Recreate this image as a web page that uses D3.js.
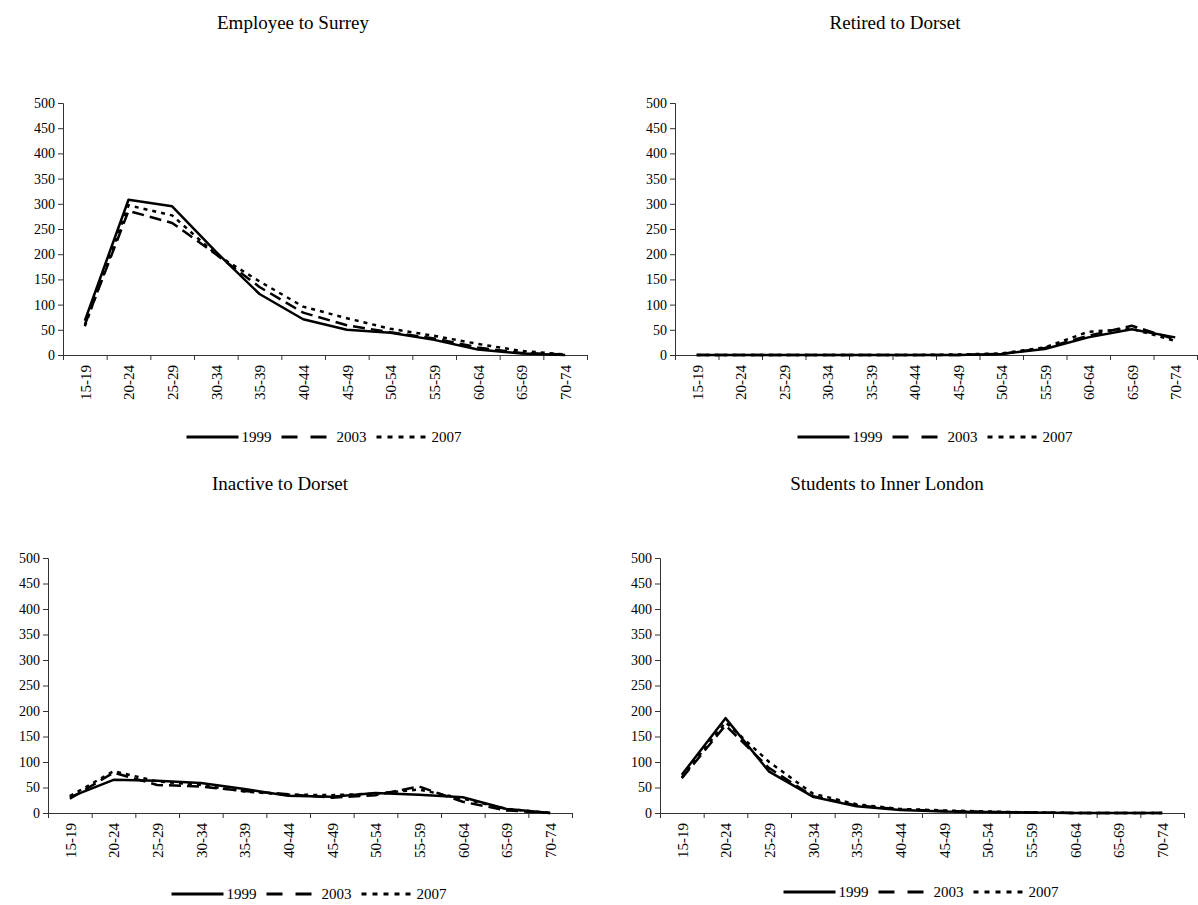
<!DOCTYPE html>
<html>
<head>
<meta charset="utf-8">
<script src="https://cdn.jsdelivr.net/npm/d3@7"></script>
<style>
  html, body { margin: 0; padding: 0; background: #ffffff; }
  svg { display: block; }
  text { font-family: "Liberation Serif", "Times New Roman", serif; fill: #000; }
</style>
</head>
<body>
<svg id="chart" width="1198" height="905"></svg>
<script>
// ---------- data ----------
const ageGroups = ["15-19","20-24","25-29","30-34","35-39","40-44","45-49","50-54","55-59","60-64","65-69","70-74"];
const years = ["1999","2003","2007"];
const yTicks = [0,50,100,150,200,250,300,350,400,450,500];

const employeeSurrey1999 = [68, 308, 295, 205, 121, 71, 50, 44, 30, 11, 3, 0];
const employeeSurrey2003 = [60, 286, 262, 200, 135, 84, 59, 45, 33, 15, 4, 1];
const employeeSurrey2007 = [57, 297, 277, 200, 146, 96, 73, 52, 38, 22, 8, 1];

const retiredDorset1999 = [0, 0, 0, 0, 0, 0, 0, 2, 12, 35, 51, 35];
const retiredDorset2003 = [0, 0, 0, 0, 0, 0, 0, 2, 14, 38, 58, 31];
const retiredDorset2007 = [0, 0, 0, 0, 0, 0, 1, 3, 15, 46, 52, 28];

const inactiveDorset1999 = [31, 65, 63, 59, 47, 34, 32, 39, 36, 31, 8, 0];
const inactiveDorset2003 = [28, 79, 55, 52, 43, 37, 30, 35, 52, 22, 5, 0];
const inactiveDorset2007 = [33, 82, 62, 55, 42, 36, 35, 38, 46, 28, 8, 0];

const studentsLondon1999 = [75, 186, 81, 32, 13, 6, 3, 2, 1, 0, 0, 0];
const studentsLondon2003 = [68, 172, 88, 33, 15, 7, 4, 2, 1, 0, 0, 0];
const studentsLondon2007 = [70, 178, 100, 38, 17, 8, 5, 3, 1, 0, 0, 0];

const panelTitles = ["Employee to Surrey", "Retired to Dorset", "Inactive to Dorset", "Students to Inner London"];

// ---------- layout ----------
const panels = [
  { title: panelTitles[0], series: [employeeSurrey1999, employeeSurrey2003, employeeSurrey2007],
    x0: 63, x1: 587, yTop: 103, yBot: 355, titleX: 293, titleY: 22, legendY: 437 },
  { title: panelTitles[1], series: [retiredDorset1999, retiredDorset2003, retiredDorset2007],
    x0: 675, x1: 1197, yTop: 103, yBot: 355, titleX: 895, titleY: 22, legendY: 437 },
  { title: panelTitles[2], series: [inactiveDorset1999, inactiveDorset2003, inactiveDorset2007],
    x0: 48, x1: 572, yTop: 558, yBot: 813, titleX: 280, titleY: 483, legendY: 894 },
  { title: panelTitles[3], series: [studentsLondon1999, studentsLondon2003, studentsLondon2007],
    x0: 660, x1: 1184, yTop: 558, yBot: 813, titleX: 887, titleY: 483, legendY: 892 }
];

const dashes = [null, "12,6", "4,5"];
const legendDashes = [null, "16,13", "5,6"];

const svg = d3.select("#chart");

panels.forEach(p => {
  const g = svg.append("g");
  const x = d3.scalePoint().domain(ageGroups).range([p.x0, p.x1]).padding(0.5);
  const xEdge = d3.scaleLinear().domain([0, ageGroups.length]).range([p.x0, p.x1]);
  const y = d3.scaleLinear().domain([0, 500]).range([p.yBot, p.yTop]);

  // title
  g.append("text").attr("x", p.titleX).attr("y", p.titleY).attr("dy", "0.35em")
    .attr("text-anchor", "middle").style("font-size", "19px").text(p.title);

  // y axis
  const ya = g.append("g").attr("transform", `translate(${p.x0},0)`)
    .call(d3.axisLeft(y).tickValues(yTicks).tickSize(5).tickPadding(3).tickFormat(d3.format("d")));
  ya.selectAll("text").style("font-size", "14px").style("font-family", "Liberation Serif");
  ya.select(".domain").attr("stroke", "#333");
  ya.selectAll(".tick line").attr("stroke", "#333");

  // x axis tick marks at category boundaries
  const xa = g.append("g").attr("transform", `translate(0,${p.yBot})`)
    .call(d3.axisBottom(xEdge).tickValues(d3.range(ageGroups.length + 1)).tickSize(5).tickFormat(""));
  xa.select(".domain").attr("stroke", "#333");
  xa.selectAll(".tick line").attr("stroke", "#333");

  // x labels
  const xl = g.append("g").attr("transform", `translate(0,${p.yBot})`)
    .call(d3.axisBottom(x).tickSize(0));
  xl.select(".domain").remove();
  xl.selectAll("text")
    .attr("transform", "rotate(-90)")
    .attr("x", -10).attr("y", 0).attr("dy", "0.35em")
    .attr("text-anchor", "end")
    .style("font-size", "15px").style("font-family", "Liberation Serif");

  // lines
  const line = d3.line().x((d, i) => x(ageGroups[i])).y(d => y(d));
  p.series.forEach((s, k) => {
    g.append("path").datum(s)
      .attr("d", line)
      .attr("fill", "none")
      .attr("stroke", "#000")
      .attr("stroke-width", 2.5)
      .attr("stroke-linejoin", "round")
      .attr("stroke-dasharray", dashes[k]);
  });

  // legend
  const lg = g.append("g");
  const items = years.map((yr, k) => ({ yr, k }));
  const lineLen = 52, textGap = 3, textW = 32, itemGap = 8;
  const totalW = items.length * (lineLen + textGap + textW) + (items.length - 1) * itemGap;
  let cx = (p.x0 + p.x1) / 2 - totalW / 2;
  items.forEach(it => {
    lg.append("line").attr("x1", cx).attr("x2", cx + lineLen)
      .attr("y1", p.legendY).attr("y2", p.legendY)
      .attr("stroke", "#000").attr("stroke-width", 3)
      .attr("stroke-dasharray", legendDashes[it.k]);
    lg.append("text").attr("x", cx + lineLen + textGap).attr("y", p.legendY)
      .attr("dy", "0.35em").style("font-size", "15px").text(it.yr);
    cx += lineLen + textGap + textW + itemGap;
  });
});
</script>
</body>
</html>
